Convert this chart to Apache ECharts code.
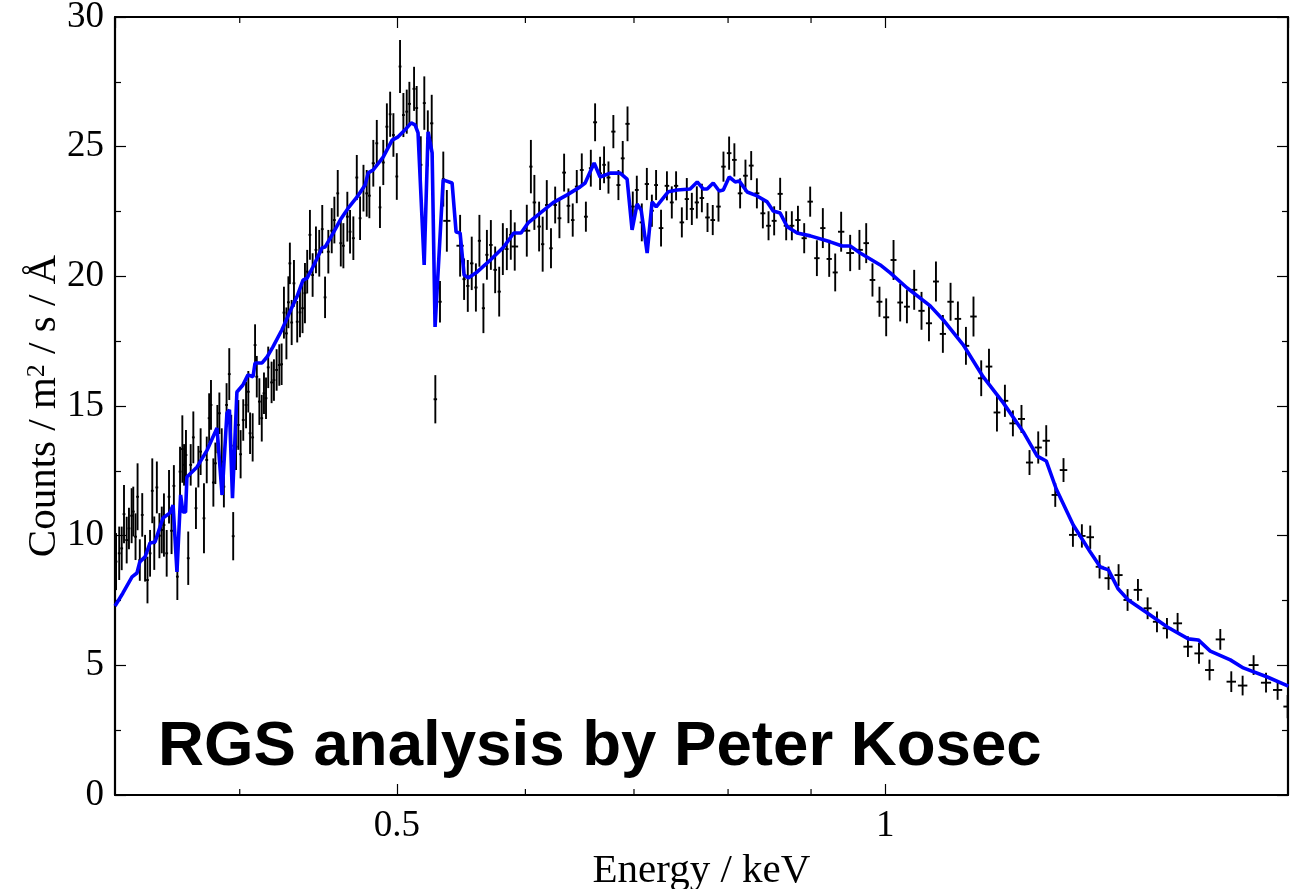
<!DOCTYPE html>
<html><head><meta charset="utf-8">
<script src="https://cdn.jsdelivr.net/npm/echarts@6/dist/echarts.min.js"></script>
<style>html,body{margin:0;padding:0;background:#fff}#c{width:1306px;height:889px}</style>
</head><body><div id="c"></div>
<script>
// Axis range: 7 - 37 Angstrom expressed in keV
const X_MIN = 12.3984 / 37;
const X_MAX = 12.3984 / 7;
const xMinorTicks = [0.4, 0.6, 0.7, 0.8, 0.9];

// Observed spectrum (energy keV, counts / m2 / s / A, 1-sigma error)
const dataEnergy = [
 0.3356,0.3371,0.3383,0.3394,0.3407,0.3418,0.3431,0.3439,0.3450,0.3460,
 0.3471,0.3483,0.3497,0.3509,0.3522,0.3533,0.3543,0.3556,0.3569,0.3581,
 0.3592,0.3606,0.3618,0.3631,0.3643,0.3661,0.3675,0.3687,0.3696,0.3706,
 0.3718,0.3731,0.3745,0.3759,0.3772,0.3784,0.3802,0.3817,0.3830,0.3840,
 0.3853,0.3864,0.3875,0.3886,0.3899,0.3911,0.3926,0.3941,0.3952,0.3963,
 0.3979,0.3992,0.4005,0.4020,0.4036,0.4049,0.4059,0.4074,0.4088,0.4098,
 0.4113,0.4127,0.4140,0.4152,0.4165,0.4185,0.4199,0.4215,0.4231,0.4245,
 0.4259,0.4274,0.4286,
 0.4295,0.4306,0.4320,0.4340,0.4357,0.4373,0.4388,0.4402,0.4419,0.4436,
 0.4457,0.4478,0.4497,0.4515,0.4536,0.4558,0.4575,0.4597,0.4617,0.4634,
 0.4660,0.4678,0.4700,0.4723,0.4745,0.4768,0.4790,0.4808,0.4835,0.4859,
 0.4881,0.4904,0.4929,0.4952,0.4975,0.4999,0.5022,0.5046,0.5070,0.5089,
 0.5123,0.5142,0.5172,0.5198,0.5224,0.5253,0.5280,0.5315,0.5340,0.5367,
 0.5469,0.5500,0.5529,0.5560,0.5593,0.5621,0.5653,0.5681,0.5713,0.5748,
 0.5781,0.5811,0.5844,0.5877,0.5910,0.6012,0.6047,0.6077,0.6118,0.6149,
 0.6185,0.6222,0.6259,0.6297,0.6339,0.6378,0.6417,0.6454,0.6500,0.6538,
 0.6584,0.6624,0.6671,0.6709,0.6751,0.6798,0.6847,0.6889,0.6936,
 0.6988,0.7028,0.7078,0.7129,0.7180,0.7223,0.7274,0.7335,0.7386,0.7431,
 0.7492,0.7545,0.7599,0.7653,0.7708,0.7770,0.7828,0.7892,0.7948,0.8012,
 0.8072,0.8138,0.8200,0.8267,0.8334,0.8405,0.8473,0.8541,0.8614,0.8688,
 0.8758,0.8834,0.8913,0.8989,0.9075,0.9152,0.9235,0.9314,0.9393,0.9514,
 0.9640,0.9733,0.9820,0.9918,
 1.0013,1.0118,1.0214,1.0312,1.0419,1.0528,1.0640,1.0746,1.0852,1.0971,
 1.1086,1.1213,1.1334,1.1459,1.1586,1.1718,1.1851,1.1986,1.2133,1.2272,
 1.2425,1.2567,
 1.2729,1.2879,1.3052,1.3219,1.3377,1.3555,1.3729,1.3926,1.4105,1.4314,
 1.4512,1.4706,1.4916,1.5143,1.5367,1.5610,1.5846,1.6089,1.6342,1.6607,
 1.6868,1.7168,1.7453,1.7703
];
const dataCounts = [
 9.0,9.32,9.51,10.83,9.83,10.28,10.77,10.93,9.96,11.50,
 9.06,10.80,9.13,8.29,9.32,11.73,9.71,11.86,10.0,10.22,
 10.41,9.32,11.50,10.19,11.92,8.42,12.47,13.34,12.73,13.11,
 9.13,12.73,13.79,11.06,12.66,13.24,10.67,12.92,14.53,15.04,
 12.05,12.79,14.11,14.72,12.85,11.89,15.04,16.23,13.47,9.98,
 13.43,14.27,13.14,14.46,15.04,15.55,13.95,13.79,17.35,16.13,
 15.17,14.53,15.49,15.3,16.49,15.91,16.0,16.39,16.58,16.61,
 18.6,17.8,19.0,
 20.5,18.22,19.73,18.25,18.61,18.77,19.35,20.18,21.6,20.05,
 21.02,20.89,21.82,19.19,20.95,21.76,22.17,23.2,21.28,21.18,
 22.3,21.72,21.47,23.81,22.24,23.4,23.2,23.11,24.36,25.13,
 22.66,24.39,25.77,26.25,25.45,23.85,28.09,26.22,26.35,26.65,
 27.23,26.49,24.3,26.68,25.32,25.9,15.26,19.02,23.75,22.14,
 21.18,19.89,19.63,20.5,19.57,21.37,18.77,20.83,21.21,20.25,
 19.41,21.05,21.05,21.6,21.15,21.76,24.23,22.85,21.92,21.24,
 22.75,21.08,22.75,22.24,24.0,22.72,22.17,23.46,24.1,22.3,
 24.17,25.94,23.97,24.3,23.81,25.58,23.52,24.55,25.88,
 22.69,23.33,22.08,23.56,22.53,23.52,21.86,23.49,22.85,23.49,
 22.08,22.98,22.6,22.85,23.02,22.27,22.17,22.69,24.23,24.75,
 24.49,23.2,23.88,24.27,23.2,22.43,21.95,22.14,23.18,21.95,
 21.95,22.17,21.47,22.88,20.7,21.86,20.67,20.15,21.72,20.9,
 21.02,21.28,19.86,19.02,
 18.42,20.63,18.99,18.83,19.48,18.67,18.19,19.8,17.78,19.02,
 18.36,17.32,18.45,16.07,16.52,14.75,15.2,14.33,14.5,12.82,
 13.4,13.66,
 11.57,12.53,10.03,9.99,9.94,8.80,8.36,8.48,7.52,7.91,
 7.20,6.68,6.43,6.62,5.72,5.46,4.82,6.00,4.37,4.22,
 5.01,4.33,4.05,3.41
];
const dataError = [
 1.1,1.03,0.84,1.12,0.9,0.8,1.06,0.96,0.9,1.29,
 0.8,0.84,0.9,0.9,0.9,1.25,1.03,1.0,0.87,0.9,
 1.22,0.9,1.03,0.9,0.8,0.9,0.96,1.3,0.8,0.96,
 1.03,0.8,1.0,0.8,0.8,0.9,1.35,0.9,0.96,0.96,
 0.93,0.8,0.93,0.8,1.29,0.8,0.84,1.0,1.19,0.93,
 0.9,0.96,0.93,0.8,0.9,0.8,0.8,0.93,0.8,0.8,
 0.9,0.9,0.8,0.8,0.8,0.8,0.8,0.8,0.8,0.8,
 1.0,1.0,1.0,
 0.8,0.87,0.9,0.8,0.96,0.96,1.16,0.84,0.96,0.84,
 0.9,0.9,0.93,0.8,0.84,0.87,0.9,0.9,0.9,0.87,
 0.96,0.84,0.84,0.87,0.84,0.9,0.9,0.87,0.9,0.9,
 0.8,0.87,0.9,0.87,0.84,0.9,1.02,0.85,0.85,0.85,
 0.85,0.85,1.1,1.03,1.08,1.1,0.93,0.8,1.06,1.19,
 1.19,0.8,1.0,1.03,0.93,1.0,0.96,0.96,0.96,0.9,
 0.96,1.0,0.81,0.96,0.93,1.0,1.03,1.06,0.96,1.06,
 0.96,0.77,0.71,0.77,0.73,0.67,0.64,0.64,0.64,0.58,
 0.71,0.73,0.64,0.71,0.62,0.64,0.58,0.67,0.67,
 0.58,0.55,0.73,0.62,0.62,0.58,0.71,0.56,0.62,0.56,
 0.58,0.81,0.62,0.62,0.55,0.56,0.58,0.58,0.58,0.64,
 0.64,0.58,0.62,0.56,0.58,0.58,0.56,0.56,0.62,0.56,
 0.56,0.55,0.58,0.58,0.69,0.77,0.69,0.73,0.77,0.7,
 0.77,0.77,0.64,0.58,
 0.73,0.77,0.73,0.64,0.77,0.73,0.69,0.77,0.73,0.73,
 0.67,0.73,0.77,0.69,0.69,0.73,0.62,0.5,0.54,0.48,
 0.62,0.6,
 0.46,0.46,0.46,0.45,0.45,0.45,0.45,0.42,0.42,0.42,
 0.42,0.4,0.4,0.4,0.4,0.4,0.4,0.4,0.4,0.38,
 0.38,0.38,0.38,0.45
];

// Best-fit model curve
const modelEnergy = [
 0.3351,0.3389,0.3433,0.3457,0.3471,0.3497,0.3522,0.3547,0.3587,0.3623,
 0.3639,0.3659,0.3678,0.3690,0.3704,0.3711,0.3765,0.3819,0.3873,0.3901,
 0.3928,0.3942,0.3959,0.3984,0.4018,0.4047,0.4076,0.4088,0.4129,0.4158,
 0.4193,0.4247,0.4295,0.4338,0.4376,0.4401,0.4438,0.4496,0.4515,0.4567,
 0.4613,0.4645,0.4672,0.4725,0.4779,0.4800,0.4834,0.4903,0.4966,0.5008,
 0.5058,0.5102,0.5130,0.5152,0.5197,0.5226,0.5256,0.5278,0.5339,0.5407,
 0.5438,0.5469,0.5500,0.5532,0.5603,0.5709,0.5818,0.5902,0.5963,0.6023,
 0.6127,0.6241,0.6366,0.6485,0.6531,0.6615,0.6671,0.6767,0.6864,0.6932,
 0.6981,0.7031,0.7072,0.7132,0.7182,0.7224,0.7348,0.7442,0.7581,0.7657,
 0.7722,0.7766,0.7833,0.7900,0.7946,0.8013,0.8081,0.8127,0.8220,0.8337,
 0.8457,0.8529,0.8614,0.8701,0.8825,0.8990,0.9248,0.9407,0.9514,0.9650,
 0.9929,1.0071,1.0316,1.0659,1.0858,1.1170,1.1492,1.1824,1.2164,1.2407,
 1.2567,1.2747,1.3058,1.3377,1.3569,1.3726,1.3920,1.4119,1.4505,1.4923,
 1.5375,1.5594,1.5862,1.6319,1.6623,1.7200,1.7720
];
const modelCounts = [
 7.29,7.79,8.41,8.56,8.99,9.18,9.72,9.76,10.68,10.88,
 11.18,8.60,11.57,10.91,10.91,12.26,12.65,13.30,14.15,11.57,
 14.73,14.85,11.45,15.54,15.81,16.20,16.13,16.66,16.66,16.89,
 17.28,17.94,18.63,19.21,19.85,19.93,20.36,21.10,21.13,21.67,
 22.17,22.45,22.68,23.06,23.52,23.99,24.10,24.60,25.25,25.38,
 25.65,25.92,25.84,25.53,20.44,25.57,24.76,18.05,23.72,23.60,
 21.71,21.67,20.05,19.94,20.17,20.63,21.13,21.67,21.67,22.06,
 22.44,22.84,23.14,23.45,23.60,24.37,23.83,23.98,23.98,23.75,
 21.79,22.79,22.55,20.90,22.87,22.68,23.26,23.33,23.37,23.64,
 23.37,23.37,23.60,23.29,23.33,23.83,23.64,23.68,23.25,23.10,
 22.87,22.52,22.44,21.91,21.67,21.56,21.33,21.17,21.17,20.90,
 20.44,20.13,19.55,18.86,18.32,17.36,16.12,15.12,14.00,13.07,
 12.88,11.80,10.41,9.37,8.79,8.68,7.94,7.52,7.02,6.48,
 6.02,5.98,5.55,5.21,4.90,4.55,4.20
];

// ---- build tables for the library ----
const n = Math.min(dataEnergy.length, dataCounts.length, dataError.length);
const errRows = [];
for (let i = 0; i < n; i++) {
  const e = dataEnergy[i];
  const prev = i > 0 ? dataEnergy[i - 1] : e * e / dataEnergy[i + 1];
  const next = i < n - 1 ? dataEnergy[i + 1] : e * e / dataEnergy[i - 1];
  errRows.push([e, dataCounts[i], dataError[i], Math.sqrt(prev * e), Math.sqrt(next * e)]);
}
const modelRows = [];
for (let i = 0; i < Math.min(modelEnergy.length, modelCounts.length); i++) modelRows.push([modelEnergy[i], modelCounts[i]]);

const serif = '"Liberation Serif","Times New Roman",serif';
const black = '#000000';
const axisLine = {show: true, onZero: false, lineStyle: {color: black, width: 2.2}};
const majorTick = {show: true, inside: true, length: 11, lineStyle: {color: black, width: 1.2}};

const chart = echarts.init(document.getElementById('c'), null, {renderer: 'canvas', width: 1306, height: 889});
chart.setOption({
  animation: false,
  backgroundColor: '#ffffff',
  grid: {left: 115, right: 18, top: 17, bottom: 94, containLabel: false, outerBoundsMode: 'none'},
  xAxis: [{
    type: 'log', logBase: 2, min: X_MIN, max: X_MAX, position: 'bottom',
    name: 'Energy / keV', nameLocation: 'middle', nameGap: 56, nameMoveOverlap: false,
    nameTextStyle: {fontFamily: serif, fontSize: 41, color: black},
    axisLine: axisLine, axisTick: majorTick,
    axisLabel: {show: true, margin: 13, fontFamily: serif, fontSize: 37, color: black,
      showMinLabel: false, showMaxLabel: false,
      formatter: v => String(+(+v).toFixed(3))},
    splitLine: {show: false}, minorTick: {show: false}
  }, {
    type: 'log', logBase: 2, min: X_MIN, max: X_MAX, position: 'top',
    axisLine: axisLine, axisTick: majorTick,
    axisLabel: {show: false}, splitLine: {show: false}
  }],
  yAxis: [{
    type: 'value', min: 0, max: 30, interval: 5, position: 'left',
    name: 'Counts / m{sup|2} / s / Å', nameLocation: 'middle', nameGap: 50, nameRotate: 90,
    nameMoveOverlap: false,
    nameTextStyle: {fontFamily: serif, fontSize: 41, color: black, lineHeight: 41,
      rich: {sup: {fontFamily: serif, fontSize: 26, color: black, verticalAlign: 'top', lineHeight: 41, padding: [0, 0, 14, 0]}}},
    axisLine: axisLine, axisTick: majorTick,
    minorTick: {show: true, splitNumber: 2, length: 6, lineStyle: {color: black, width: 1.2}},
    axisLabel: {margin: 11, fontFamily: serif, fontSize: 37, color: black},
    splitLine: {show: false}
  }, {
    type: 'value', min: 0, max: 30, interval: 5, position: 'right',
    axisLine: axisLine, axisTick: majorTick,
    minorTick: {show: true, splitNumber: 2, length: 6, lineStyle: {color: black, width: 1.2}},
    axisLabel: {show: false}, splitLine: {show: false}
  }],
  graphic: [{
    type: 'text', left: 158, top: 715, z: 100,
    style: {text: 'RGS analysis by Peter Kosec', fill: black,
      font: 'bold 63.6px "Liberation Sans", Arial, sans-serif'}
  }],
  series: [{
    type: 'custom', name: 'data', xAxisIndex: 0, yAxisIndex: 0, clip: true,
    encode: {x: 0, y: 1},
    data: errRows,
    renderItem: function (params, api) {
      const x = api.value(0), y = api.value(1), er = api.value(2);
      const c = api.coord([x, y]);
      const t = api.coord([x, y + er]);
      const b = api.coord([x, y - er]);
      const l = api.coord([api.value(3), y]);
      const r = api.coord([api.value(4), y]);
      const hw = Math.max(1.4, (r[0] - l[0]) / 2 * 0.85);
      const st = {stroke: black, lineWidth: 1.9};
      return {type: 'group', children: [
        {type: 'line', shape: {x1: c[0], y1: t[1], x2: c[0], y2: b[1]}, style: st},
        {type: 'line', shape: {x1: c[0] - hw, y1: c[1], x2: c[0] + hw, y2: c[1]}, style: st}
      ]};
    }
  }, {
    type: 'custom', name: 'minorTicks', xAxisIndex: 0, yAxisIndex: 0, clip: false, silent: true,
    encode: {x: 0, y: 1},
    data: xMinorTicks.map(v => [v, 0]),
    renderItem: function (params, api) {
      const cs = params.coordSys;
      const px = api.coord([api.value(0), 0])[0];
      const st = {stroke: black, lineWidth: 1.2};
      return {type: 'group', children: [
        {type: 'line', shape: {x1: px, y1: cs.y + cs.height, x2: px, y2: cs.y + cs.height - 6}, style: st},
        {type: 'line', shape: {x1: px, y1: cs.y, x2: px, y2: cs.y + 6}, style: st}
      ]};
    }
  }, {
    type: 'line', name: 'model', xAxisIndex: 0, yAxisIndex: 0,
    data: modelRows, showSymbol: false, symbol: 'none', smooth: false,
    lineStyle: {color: '#0000ff', width: 3.6}, z: 5
  }]
});
</script></body></html>
